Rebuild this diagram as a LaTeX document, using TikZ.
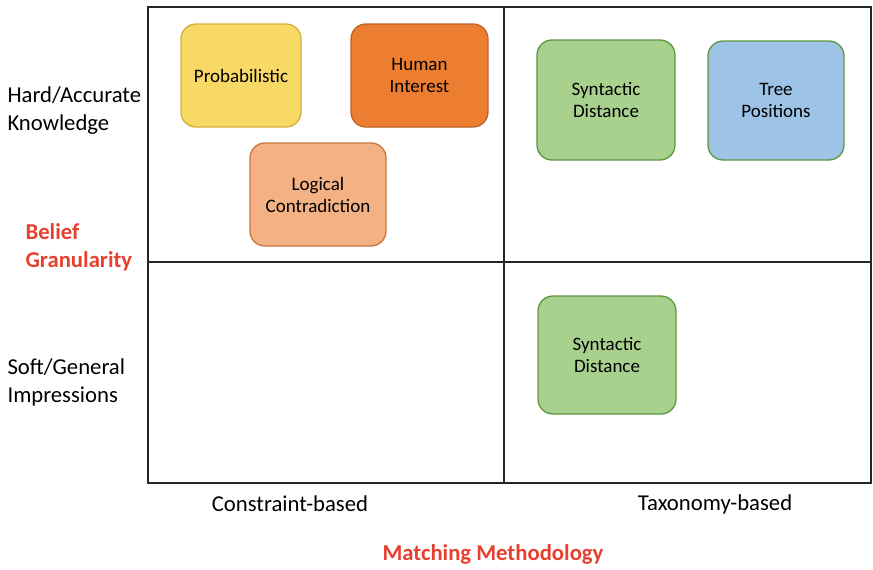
\documentclass[tikz,border=0pt]{standalone}
\usepackage{fontspec}
\setmainfont{Carlito}
\definecolor{yelF}{HTML}{F9D966}
\definecolor{yelD}{HTML}{D4B03A}
\definecolor{orgF}{HTML}{ED7D31}
\definecolor{orgD}{HTML}{BE6226}
\definecolor{pchF}{HTML}{F4B183}
\definecolor{pchD}{HTML}{C8763C}
\definecolor{grnF}{HTML}{A9D18E}
\definecolor{grnD}{HTML}{5E9641}
\definecolor{bluF}{HTML}{9DC3E6}
\definecolor{redT}{HTML}{E8402F}
\tikzset{
  catbox/.style={draw=#1, line width=1.3pt, rounded corners=15pt, align=center, inner sep=0pt, font=\fontsize{19}{22}\selectfont},
  axlabel/.style={align=left, anchor=west, font=\fontsize{22.7}{28}\selectfont},
  redlabel/.style={text=redT, font=\bfseries\fontsize{22.7}{28}\selectfont},
  ticklabel/.style={font=\fontsize{22.7}{26}\selectfont}
}
\begin{document}
\begin{tikzpicture}[x=1pt,y=-1pt]
\useasboundingbox (0,0) rectangle (873,570);
% frame
\draw[line width=1.6pt, black!85] (148,7) rectangle (871,483);
\draw[line width=1.6pt, black!85] (504,7) -- (504,483);
\draw[line width=1.6pt, black!85] (148,262) -- (871,262);
% boxes
\node[catbox=yelD, fill=yelF, minimum width=120pt, minimum height=103pt] (prob) at (241,75.5) {Probabilistic};
\node[catbox=orgD, fill=orgF, minimum width=137pt, minimum height=103pt] (human) at (419.5,75.5) {Human\\Interest};
\node[catbox=pchD, fill=pchF, minimum width=136pt, minimum height=103pt] (logic) at (318,194.5) {Logical\\Contradiction};
\node[catbox=grnD, fill=grnF, minimum width=138pt, minimum height=120pt] (syn1) at (606,100) {Syntactic\\Distance};
\node[catbox=grnD, fill=bluF, minimum width=136pt, minimum height=119pt] (tree) at (776,100.5) {Tree\\Positions};
\node[catbox=grnD, fill=grnF, minimum width=138pt, minimum height=118pt] (syn2) at (607,355) {Syntactic\\Distance};
% axis labels
\node[axlabel] (hard) at (4,111) {Hard/Accurate\\Knowledge};
\node[axlabel, redlabel] (belief) at (22,247) {Belief\\Granularity};
\node[axlabel] (soft) at (4,382) {Soft/General\\Impressions};
\node[ticklabel] (cons) at (290,504) {Constraint-based};
\node[ticklabel] (tax) at (715,504) {Taxonomy-based};
\node[redlabel] (match) at (493,554) {Matching Methodology};
\end{tikzpicture}
\end{document}
